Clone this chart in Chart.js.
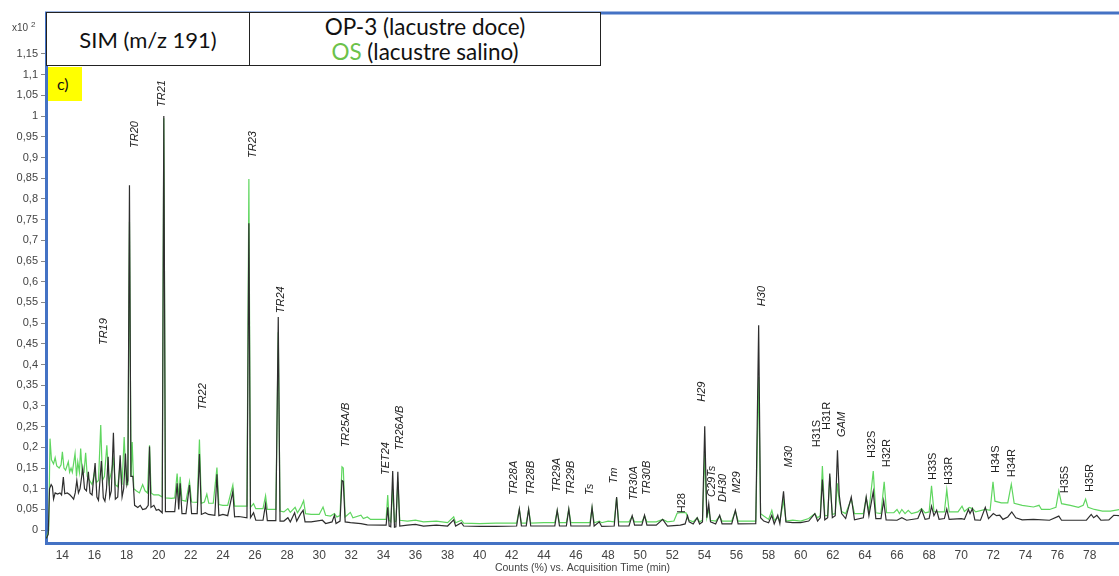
<!DOCTYPE html>
<html>
<head>
<meta charset="utf-8">
<script src="https://cdn.jsdelivr.net/npm/chart.js@4.4.1/dist/chart.umd.min.js"></script>
<style>
  body { margin: 0; background: #fff; }
  #wrap { position: relative; width: 1119px; height: 576px; overflow: hidden; font-family: "Liberation Sans", Arial, sans-serif; }
  #chart { position: absolute; left: 0; top: 0; }
  #legendBox { position: absolute; left: 46px; top: 12px; width: 553px; height: 52px; border: 1px solid #222; background: #fff; display: flex; font-family: Lato, "Open Sans", sans-serif; color: #111; }
  #legendBox .sim { width: 202px; border-right: 1px solid #222; display: flex; align-items: center; justify-content: center; font-size: 22px; }
  #legendBox .samples { flex: 1; text-align: center; font-size: 22.5px; line-height: 25px; padding-top: 1px; }
  #legendBox .os { color: #6cc24a; }
  #panel { position: absolute; left: 48px; top: 67px; width: 34px; height: 34px; background: #ffff00; font-family: Lato, sans-serif; font-size: 16px; line-height: 34px; padding-left: 9px; box-sizing: border-box; color: #111; }
  #scaleNote { position: absolute; left: 12px; top: 20px; font-size: 10px; color: #444; }
  #scaleNote sup { font-size: 8px; }
</style>
</head>
<body>
<div id="wrap">
  <canvas id="chart" width="1119" height="576"></canvas>
  <div id="legendBox">
    <div class="sim">SIM (m/z 191)</div>
    <div class="samples">OP-3 (lacustre doce)<br><span class="os">OS</span> (lacustre salino)</div>
  </div>
  <div id="panel">c)</div>
  <div id="scaleNote">x10 <sup>2</sup></div>
</div>
<script>
// retention time (min), relative counts
const op3Trace = [
  [13.0,-0.02],[13.12,-0.01],[13.2,0.1],[13.3,0.11],[13.38,0.105],[13.45,0.075],[13.55,0.09],[13.7,0.087],
  [13.85,0.09],[13.95,0.085],[14.06,0.128],[14.15,0.088],[14.3,0.09],[14.45,0.086],[14.6,0.08],[14.7,0.075],
  [14.8,0.09],[14.9,0.12],[15.0,0.09],[15.1,0.1],[15.27,0.149],[15.38,0.1],[15.5,0.095],[15.62,0.141],
  [15.72,0.09],[15.85,0.085],[16.04,0.162],[16.15,0.08],[16.25,0.072],[16.43,0.167],[16.55,0.078],[16.65,0.07],
  [16.75,0.1],[16.85,0.177],[16.95,0.08],[17.05,0.095],[17.18,0.235],[17.3,0.075],[17.45,0.08],[17.6,0.181],
  [17.72,0.08],[17.82,0.1],[17.93,0.185],[18.02,0.11],[18.08,0.12],[18.18,0.833],[18.27,0.13],[18.39,0.13],
  [18.5,0.06],[18.7,0.055],[18.85,0.06],[19.0,0.05],[19.2,0.052],[19.35,0.06],[19.43,0.202],[19.52,0.055],
  [19.7,0.06],[19.85,0.048],[20.0,0.05],[20.22,0.042],[20.32,1.0],[20.42,0.045],[20.7,0.045],[21.0,0.045],
  [21.15,0.113],[21.25,0.05],[21.34,0.113],[21.45,0.04],[21.7,0.04],[21.92,0.109],[22.05,0.04],[22.4,0.04],
  [22.54,0.184],[22.66,0.038],[22.9,0.042],[23.1,0.038],[23.5,0.036],[23.63,0.135],[23.75,0.035],[24.0,0.038],
  [24.3,0.035],[24.62,0.093],[24.73,0.032],[25.0,0.033],[25.5,0.03],[25.62,0.741],[25.72,0.03],[25.91,0.042],
  [26.05,0.024],[26.5,0.024],[26.66,0.063],[26.77,0.023],[27.3,0.023],[27.45,0.515],[27.56,0.022],[27.8,0.022],
  [28.05,0.03],[28.2,0.02],[28.47,0.042],[28.6,0.022],[28.85,0.04],[29.0,0.048],[29.12,0.02],[29.5,0.02],
  [30.2,0.024],[30.4,0.016],[30.8,0.02],[30.95,0.036],[31.05,0.016],[31.3,0.022],[31.42,0.12],[31.5,0.118],
  [31.62,0.02],[31.95,0.018],[32.6,0.016],[33.0,0.013],[34.0,0.012],[34.17,0.012],[34.27,0.055],[34.36,0.01],
  [34.46,0.008],[34.58,0.143],[34.69,0.007],[34.78,0.008],[34.9,0.141],[35.02,0.01],[35.5,0.012],[36.0,0.014],
  [36.5,0.01],[37.3,0.012],[38.0,0.01],[38.38,0.025],[38.5,0.01],[38.86,0.018],[39.0,0.01],[40.0,0.009],
  [41.0,0.009],[42.3,0.01],[42.47,0.051],[42.6,0.01],[42.9,0.01],[43.05,0.051],[43.18,0.01],[44.0,0.01],
  [44.68,0.01],[44.83,0.048],[44.97,0.01],[45.4,0.01],[45.55,0.051],[45.68,0.01],[46.5,0.01],[46.87,0.01],
  [47.0,0.055],[47.13,0.01],[47.45,0.02],[47.6,0.009],[48.38,0.01],[48.53,0.08],[48.66,0.01],[49.3,0.01],
  [49.5,0.035],[49.65,0.012],[50.1,0.012],[50.27,0.036],[50.42,0.012],[51.0,0.012],[51.4,0.026],[51.7,0.01],
  [52.5,0.012],[52.8,0.015],[52.95,0.035],[53.05,0.02],[53.3,0.015],[53.55,0.03],[53.7,0.015],[53.88,0.02],
  [54.02,0.251],[54.15,0.03],[54.27,0.064],[54.38,0.02],[54.7,0.015],[54.95,0.036],[55.1,0.015],[55.7,0.015],
  [55.93,0.048],[56.1,0.015],[57.2,0.016],[57.38,0.495],[57.5,0.03],[57.7,0.022],[58.0,0.018],[58.2,0.036],
  [58.35,0.015],[58.57,0.036],[58.7,0.016],[58.93,0.094],[59.08,0.02],[59.5,0.018],[60.0,0.018],[60.5,0.022],
  [60.88,0.04],[61.05,0.022],[61.22,0.03],[61.35,0.122],[61.5,0.025],[61.68,0.03],[61.81,0.137],[61.97,0.03],
  [62.15,0.035],[62.29,0.193],[62.4,0.085],[62.55,0.04],[62.8,0.028],[63.15,0.08],[63.35,0.025],[63.9,0.03],
  [64.08,0.08],[64.25,0.035],[64.52,0.093],[64.68,0.028],[65.0,0.028],[65.17,0.071],[65.32,0.025],[66.0,0.024],
  [66.3,0.03],[66.6,0.024],[67.3,0.028],[67.53,0.05],[67.75,0.026],[68.0,0.028],[68.15,0.058],[68.3,0.035],
  [68.47,0.048],[68.62,0.026],[68.95,0.028],[69.1,0.051],[69.25,0.026],[70.0,0.028],[70.2,0.026],[70.45,0.05],
  [70.55,0.04],[70.7,0.052],[70.85,0.025],[71.2,0.024],[71.5,0.055],[71.7,0.028],[72.0,0.04],[72.2,0.035],
  [72.4,0.036],[72.6,0.026],[72.9,0.032],[73.15,0.044],[73.4,0.03],[73.8,0.025],[74.5,0.026],[75.5,0.024],
  [76.08,0.034],[76.25,0.024],[77.0,0.024],[77.8,0.024],[78.1,0.038],[78.25,0.03],[78.45,0.036],[78.7,0.024],
  [79.2,0.025],[79.5,0.036],[79.85,0.035]
];

const osTrace = [
  [13.0,-0.02],[13.15,0.0],[13.23,0.221],[13.32,0.17],[13.45,0.16],[13.55,0.175],[13.65,0.155],[13.8,0.15],
  [13.92,0.158],[14.0,0.189],[14.1,0.15],[14.2,0.145],[14.37,0.165],[14.45,0.14],[14.54,0.15],[14.62,0.14],
  [14.79,0.185],[14.88,0.13],[14.96,0.165],[15.06,0.14],[15.14,0.197],[15.24,0.135],[15.35,0.14],[15.45,0.187],
  [15.55,0.13],[15.7,0.12],[15.85,0.11],[16.0,0.14],[16.12,0.115],[16.25,0.12],[16.39,0.254],[16.5,0.12],
  [16.62,0.13],[16.77,0.205],[16.9,0.115],[17.05,0.14],[17.18,0.17],[17.3,0.11],[17.45,0.105],[17.6,0.16],
  [17.72,0.11],[17.85,0.225],[17.98,0.11],[18.08,0.11],[18.18,0.745],[18.28,0.13],[18.35,0.213],[18.45,0.1],
  [18.6,0.095],[18.8,0.09],[19.0,0.11],[19.15,0.095],[19.3,0.09],[19.43,0.205],[19.53,0.09],[19.7,0.085],
  [20.0,0.085],[20.22,0.08],[20.32,0.995],[20.42,0.078],[20.8,0.077],[21.0,0.078],[21.15,0.137],[21.25,0.075],
  [21.34,0.129],[21.45,0.072],[21.7,0.07],[21.92,0.117],[22.05,0.068],[22.4,0.067],[22.54,0.219],[22.66,0.065],
  [22.85,0.068],[23.0,0.087],[23.12,0.065],[23.4,0.065],[23.63,0.151],[23.75,0.062],[24.0,0.06],[24.3,0.06],
  [24.62,0.109],[24.73,0.058],[25.0,0.058],[25.5,0.058],[25.62,0.848],[25.72,0.055],[25.91,0.064],[26.05,0.052],
  [26.5,0.052],[26.66,0.083],[26.77,0.05],[27.3,0.05],[27.45,0.478],[27.56,0.046],[27.8,0.044],[28.05,0.052],
  [28.2,0.043],[28.5,0.055],[28.65,0.042],[28.85,0.055],[29.03,0.071],[29.15,0.04],[29.5,0.038],[30.0,0.038],
  [30.24,0.056],[30.4,0.036],[30.7,0.034],[30.95,0.04],[31.1,0.032],[31.3,0.035],[31.42,0.153],[31.5,0.15],
  [31.62,0.032],[31.94,0.043],[32.1,0.03],[32.6,0.036],[32.75,0.028],[33.0,0.032],[33.2,0.026],[34.0,0.026],
  [34.17,0.026],[34.27,0.085],[34.36,0.024],[34.46,0.02],[34.58,0.1],[34.69,0.02],[34.78,0.022],[34.9,0.117],
  [35.02,0.024],[35.5,0.022],[36.0,0.024],[36.5,0.02],[37.3,0.022],[38.0,0.018],[38.38,0.032],[38.5,0.018],
  [38.86,0.024],[39.0,0.017],[40.0,0.016],[41.0,0.017],[42.3,0.017],[42.47,0.05],[42.6,0.017],[42.9,0.017],
  [43.05,0.05],[43.18,0.017],[44.0,0.018],[44.68,0.018],[44.83,0.047],[44.97,0.018],[45.4,0.018],[45.55,0.05],
  [45.68,0.018],[46.5,0.018],[46.87,0.018],[47.0,0.054],[47.13,0.018],[47.45,0.022],[47.6,0.018],[48.0,0.022],
  [48.38,0.02],[48.53,0.078],[48.66,0.02],[49.3,0.02],[49.5,0.033],[49.65,0.02],[50.1,0.02],[50.27,0.034],
  [50.42,0.02],[51.0,0.02],[51.4,0.026],[51.7,0.02],[52.1,0.022],[52.3,0.041],[52.6,0.043],[52.85,0.042],
  [53.0,0.025],[53.3,0.02],[53.55,0.03],[53.7,0.02],[53.88,0.024],[54.02,0.185],[54.15,0.03],[54.27,0.05],
  [54.38,0.024],[54.7,0.022],[54.95,0.034],[55.1,0.022],[55.7,0.022],[55.93,0.046],[56.1,0.022],[57.2,0.022],
  [57.38,0.37],[57.5,0.04],[57.7,0.034],[58.0,0.026],[58.2,0.048],[58.35,0.024],[58.57,0.03],[58.7,0.022],
  [58.93,0.072],[59.08,0.022],[59.5,0.024],[60.0,0.022],[60.5,0.028],[60.88,0.04],[61.05,0.03],[61.22,0.035],
  [61.35,0.155],[61.5,0.035],[61.68,0.035],[61.81,0.129],[61.97,0.038],[62.15,0.04],[62.29,0.113],[62.4,0.07],
  [62.55,0.045],[62.8,0.04],[63.15,0.075],[63.35,0.04],[63.9,0.04],[64.08,0.078],[64.25,0.045],[64.52,0.143],
  [64.68,0.042],[65.0,0.04],[65.2,0.117],[65.35,0.042],[65.8,0.042],[66.0,0.05],[66.15,0.04],[66.3,0.05],
  [66.5,0.04],[66.7,0.048],[66.9,0.04],[67.3,0.044],[67.53,0.052],[67.75,0.042],[68.0,0.044],[68.15,0.107],
  [68.3,0.045],[68.6,0.044],[68.95,0.044],[69.1,0.098],[69.25,0.044],[69.8,0.044],[70.05,0.058],[70.2,0.045],
  [70.5,0.055],[70.7,0.052],[70.9,0.044],[71.5,0.05],[71.8,0.048],[71.98,0.117],[72.1,0.07],[72.5,0.066],
  [72.9,0.066],[73.12,0.111],[73.3,0.065],[73.8,0.06],[74.5,0.056],[74.85,0.06],[75.0,0.05],[75.5,0.05],
  [75.9,0.055],[76.08,0.095],[76.25,0.064],[76.8,0.06],[77.3,0.055],[77.6,0.06],[77.75,0.075],[77.9,0.055],
  [78.3,0.05],[78.8,0.046],[79.3,0.046],[79.85,0.05]
];

const xTicks = [14,16,18,20,22,24,26,28,30,32,34,36,38,40,42,44,46,48,50,52,54,56,58,60,62,64,66,68,70,72,74,76,78];
const yTicks = [0,0.05,0.1,0.15,0.2,0.25,0.3,0.35,0.4,0.45,0.5,0.55,0.6,0.65,0.7,0.75,0.8,0.85,0.9,0.95,1,1.05,1.1,1.15];

// peak names with the time / level where each label starts
const peakNames  = ['TR19','TR20','TR21','TR22','TR23','TR24','TR25A/B','TET24','TR26A/B','TR28A','TR28B','TR29A','TR29B','Ts','Tm','TR30A','TR30B','H28','H29','C29Ts','DH30','M29','H30','M30','H31S','H31R','GAM','H32S','H32R','H33S','H33R','H34S','H34R','H35S','H35R'];
const peakTimes  = [16.56,18.55,20.23,22.73,25.85,27.6,31.65,34.14,35.0,42.13,43.2,44.84,45.71,46.86,48.35,49.62,50.43,52.63,53.82,54.44,55.17,56.0,57.58,59.26,60.99,61.65,62.55,64.41,65.35,68.22,69.24,72.17,73.15,76.47,78.03];
const peakLevels = [0.447,0.923,1.022,0.29,0.899,0.524,0.2,0.133,0.193,0.085,0.085,0.092,0.085,0.085,0.113,0.072,0.085,0.041,0.31,0.08,0.068,0.09,0.541,0.152,0.2,0.242,0.225,0.174,0.152,0.121,0.109,0.138,0.128,0.089,0.092];
const uprightNames = ['H28','H31S','H31R','H32S','H32R','H33S','H33R','H34S','H34R','H35S','H35R'];

const toXY = pts => pts.map(p => ({ x: p[0], y: p[1] }));

const peakLabelPlugin = {
  id: 'peakLabels',
  afterDatasetsDraw(chart) {
    const ctx = chart.ctx;
    const xs = chart.scales.x, ys = chart.scales.y;
    ctx.save();
    ctx.fillStyle = '#222';
    ctx.textAlign = 'left';
    ctx.textBaseline = 'middle';
    peakNames.forEach((name, i) => {
      const px = xs.getPixelForValue(peakTimes[i]);
      const py = ys.getPixelForValue(peakLevels[i]);
      ctx.font = (uprightNames.includes(name) ? '' : 'italic ') + '11px "Liberation Sans", Arial, sans-serif';
      ctx.save();
      ctx.translate(px, py);
      ctx.rotate(-Math.PI / 2);
      ctx.fillText(name, 0, 0);
      ctx.restore();
    });
    ctx.restore();
  }
};

const topBorderPlugin = {
  id: 'topBorder',
  afterDraw(chart) {
    const { ctx, chartArea } = chart;
    ctx.save();
    ctx.strokeStyle = '#4472c4';
    ctx.lineWidth = 3;
    ctx.beginPath();
    ctx.moveTo(chartArea.left - 1, chartArea.top);
    ctx.lineTo(chart.width, chartArea.top);
    ctx.stroke();
    ctx.restore();
  }
};

const fmt = v => String(v).replace('.', ',');

new Chart(document.getElementById('chart').getContext('2d'), {
  type: 'line',
  data: {
    datasets: [
      { label: 'OP-3 (lacustre doce)', data: toXY(op3Trace), borderColor: '#2e2e2e', borderWidth: 1.2, pointRadius: 0, tension: 0 },
      { label: 'OS (lacustre salino)', data: toXY(osTrace), borderColor: '#5fd65f', borderWidth: 1.2, pointRadius: 0, tension: 0 }
    ]
  },
  options: {
    responsive: false,
    animation: false,
    devicePixelRatio: 1,
    layout: { padding: { top: 13, right: 0, left: 0, bottom: 0 } },
    plugins: { legend: { display: false }, tooltip: { enabled: false } },
    scales: {
      x: {
        type: 'linear',
        min: 12.98,
        max: 79.83,
        afterBuildTicks: s => { s.ticks = xTicks.map(v => ({ value: v })); },
        afterFit: s => { s.height = 33; },
        grid: { drawOnChartArea: false, drawTicks: true, tickLength: 4, tickColor: 'rgba(0,0,0,0)' },
        border: { display: true, color: '#4472c4', width: 3 },
        ticks: { color: '#444', font: { size: 12, family: '"Liberation Sans", Arial, sans-serif' }, padding: 1, maxRotation: 0, autoSkip: false },
        title: { display: true, text: 'Counts (%) vs. Acquisition Time (min)', color: '#444', font: { size: 10.5, family: '"Liberation Sans", Arial, sans-serif' }, padding: { top: 0, bottom: 2 } }
      },
      y: {
        min: -0.031,
        max: 1.249,
        afterBuildTicks: s => { s.ticks = yTicks.map(v => ({ value: v })); },
        afterFit: s => { s.width = 46; },
        grid: { drawOnChartArea: false, drawTicks: true, tickLength: 5, tickColor: '#888' },
        border: { display: true, color: '#4472c4', width: 3 },
        ticks: { color: '#444', font: { size: 11, family: '"Liberation Sans", Arial, sans-serif' }, padding: 3, callback: v => fmt(v) }
      }
    }
  },
  plugins: [peakLabelPlugin, topBorderPlugin]
});
</script>
</body>
</html>
